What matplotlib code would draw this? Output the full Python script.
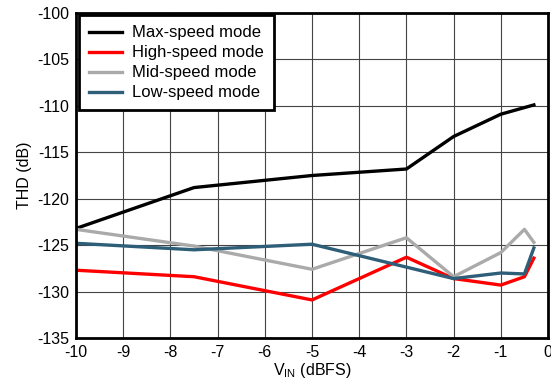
import matplotlib
matplotlib.use("Agg")
import matplotlib.pyplot as plt

plt.rcParams['font.family'] = ['Liberation Sans', 'DejaVu Sans']
plt.rcParams['mathtext.fontset'] = 'custom'
plt.rcParams['mathtext.rm'] = 'Liberation Sans'
plt.rcParams['axes.unicode_minus'] = False

max_x = [-10, -7.5, -5, -3, -2, -1, -0.3]
max_y = [-123.2, -118.8, -117.5, -116.8, -113.3, -110.9, -109.9]

high_x = [-10, -7.5, -5, -3, -2, -1, -0.5, -0.3]
high_y = [-127.7, -128.4, -130.9, -126.3, -128.6, -129.3, -128.4, -126.4]

mid_x = [-10, -7.5, -5, -3, -2, -1, -0.5, -0.3]
mid_y = [-123.3, -125.1, -127.6, -124.2, -128.4, -125.8, -123.3, -124.7]

low_x = [-10, -7.5, -5, -2, -1, -0.5, -0.3]
low_y = [-124.8, -125.5, -124.9, -128.6, -128.0, -128.1, -125.3]

fig = plt.figure(figsize=(5.51, 3.9), dpi=100)
ax = fig.add_axes([0.138, 0.1333, 0.8566, 0.8334])

ax.plot(max_x, max_y, color='black', lw=2.4, label='Max-speed mode')
ax.plot(high_x, high_y, color='#ff0000', lw=2.4, label='High-speed mode')
ax.plot(mid_x, mid_y, color='#aaaaaa', lw=2.4, label='Mid-speed mode')
ax.plot(low_x, low_y, color='#2e5e78', lw=2.4, label='Low-speed mode')

ax.set_xlim(-10, 0)
ax.set_ylim(-135, -100)
ax.set_xticks(range(-10, 1))
ax.set_yticks(range(-135, -99, 5))
ax.grid(True, color='#444444', lw=0.8)
ax.tick_params(length=0, labelsize=11.5, pad=5)
for s in ax.spines.values():
    s.set_linewidth(2)
ax.set_xlabel(r'V$_{\mathrm{IN}}$ (dBFS)', fontsize=11.5, labelpad=1)
ax.set_ylabel('THD (dB)', fontsize=11.5, labelpad=4)

leg = ax.legend(loc='upper left', fontsize=12, frameon=True, fancybox=False,
                edgecolor='black', framealpha=1, borderaxespad=0.15,
                handlelength=2.0, handletextpad=0.6, labelspacing=0.3,
                borderpad=0.6)
leg.get_frame().set_linewidth(2)

fig.savefig('out.png', dpi=100)
